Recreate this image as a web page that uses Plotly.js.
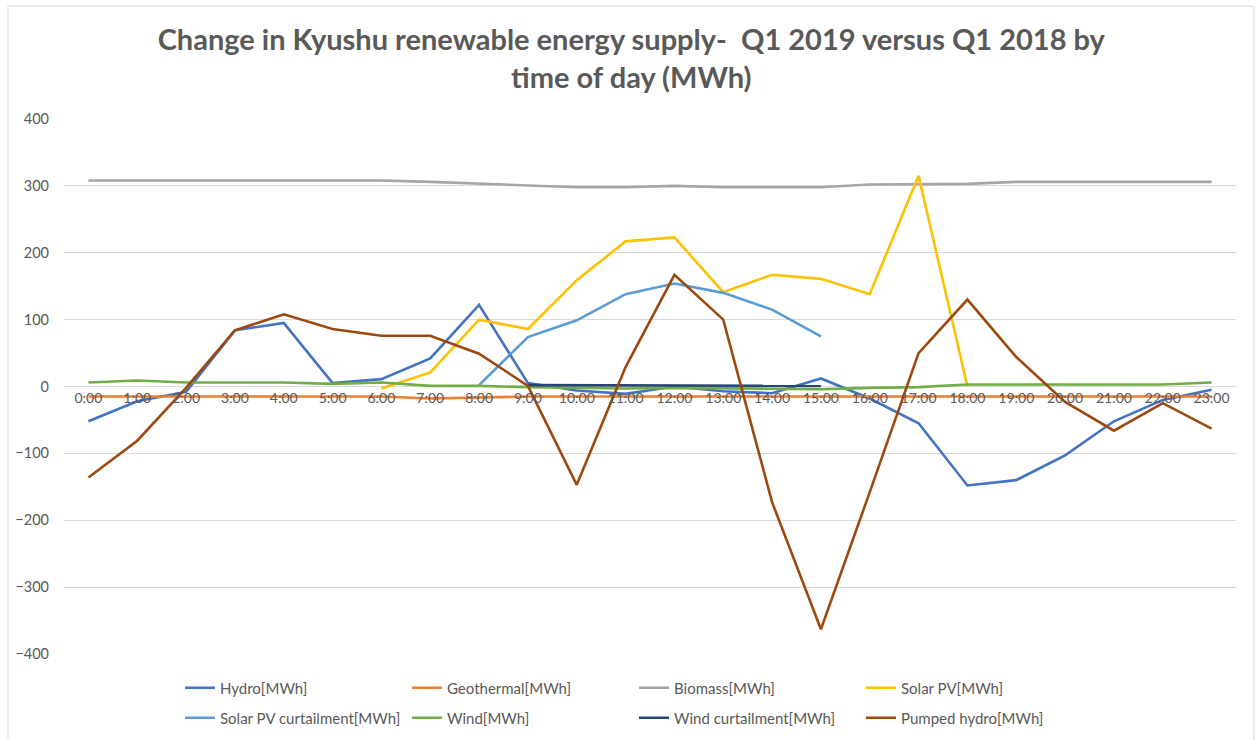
<!DOCTYPE html>
<html>
<head>
<meta charset="utf-8">
<script src="https://cdn.plot.ly/plotly-3.0.1.min.js"></script>
<style>html,body{margin:0;padding:0;background:#fff;}#chart{width:1255px;height:740px;}</style>
</head>
<body>
<div id="chart"></div>
<script>
const hours = ["0:00","1:00","2:00","3:00","4:00","5:00","6:00","7:00","8:00","9:00","10:00","11:00","12:00","13:00","14:00","15:00","16:00","17:00","18:00","19:00","20:00","21:00","22:00","23:00"];
const hydro = [-52,-22,-8,84,95,5,11,42,122,5,-6,-11,0,-7,-10,12,-18,-55,-148,-140,-103,-52,-20,-5];
const geothermal = [-15,-15,-15,-15,-15,-15,-15,-18,-16,-15,-15,-15,-15,-15,-15,-15,-15,-15,-15,-15,-15,-15,-15,-15];
const biomass = [308,308,308,308,308,308,308,306,303,301,298,298,300,298,298,298,302,303,303,306,306,306,306,306];
const solarPV = [null,null,null,null,null,null,-3,21,100,86,159,217,223,141,167,161,138,315,0,null,null,null,null,null];
const solarPVCurtailment = [null,null,null,null,null,null,null,null,2,74,99,138,154,140,115,75,null,null,null,null,null,null,null,null];
const wind = [6,9,6,6,6,4,6,1,1,-1,-2,-3,-2,-3,-3,-4,-2,-1,3,3,3,3,3,6];
const windCurtailment = [null,null,null,null,null,null,null,null,null,2,2,2,2,2,2,1,null,null,null,null,null,null,null,null];
const pumpedHydro = [-136,-81,-2,84,108,86,76,76,49,1,-147,29,167,100,-173,-363,-158,50,130,44,-23,-66,-25,-63];

const seriesNames = ["Hydro[MWh]","Geothermal[MWh]","Biomass[MWh]","Solar PV[MWh]","Solar PV curtailment[MWh]","Wind[MWh]","Wind curtailment[MWh]","Pumped hydro[MWh]"];
const seriesData = [hydro, geothermal, biomass, solarPV, solarPVCurtailment, wind, windCurtailment, pumpedHydro];
const colors = ["#4472C4","#ED7D31","#A5A5A5","#FFC000","#5B9BD5","#70AD47","#264478","#9E480E"];

const traces = seriesData.map((d, i) => ({
  type: 'scatter', mode: 'lines', x: hours, y: d, name: seriesNames[i],
  line: {color: colors[i], width: 2.6},
  connectgaps: false,
  legend: i < 4 ? 'legend' : 'legend2',
  hoverinfo: 'x+y+name'
}));

const legendCommon = {
  orientation: 'h', xanchor: 'left', yanchor: 'middle',
  entrywidth: 182, entrywidthmode: 'pixels',
  font: {family: 'Lato', size: 15, color: '#595959'},
  bgcolor: 'rgba(0,0,0,0)', borderwidth: 0, traceorder: 'normal'
};

const layout = {
  width: 1255, height: 740,
  margin: {l: 64, r: 19, t: 119, b: 86, autoexpand: false},
  paper_bgcolor: '#ffffff', plot_bgcolor: '#ffffff',
  font: {family: 'Lato', color: '#595959'},
  title: {
    text: 'Change in Kyushu renewable energy supply-  Q1 2019 versus Q1 2018 by<br>time of day (MWh)',
    font: {family: 'Lato', size: 29, color: '#595959', weight: 'bold'},
    xref: 'container', x: 0.503, xanchor: 'center',
    yref: 'container', y: 1 - 50/740, yanchor: 'top'
  },
  xaxis: {
    type: 'category', range: [-0.5, 23.5],
    showgrid: false, showline: false, zeroline: false,
    anchor: 'free', position: 0.5,
    ticks: '', ticklabelstandoff: 1,
    tickfont: {family: 'Lato', size: 14, color: '#595959'},
    fixedrange: true
  },
  yaxis: {
    range: [-400, 400], tickvals: [-400,-300,-200,-100,0,100,200,300,400],
    showgrid: true, gridcolor: '#d9d9d9', gridwidth: 1,
    zeroline: true, zerolinecolor: '#d9d9d9', zerolinewidth: 1,
    showline: false, ticks: '', ticklabelstandoff: 14,
    tickfont: {family: 'Lato', size: 14.5, color: '#595959'},
    fixedrange: true
  },
  legend: Object.assign({}, legendCommon, {x: (180-64)/1172, y: (654-688)/535}),
  legend2: Object.assign({}, legendCommon, {x: (180-64)/1172, y: (654-718)/535}),
  shapes: [{
    type: 'rect', xref: 'paper', yref: 'paper',
    x0: (8-64)/1172, x1: (1254-64)/1172, y0: -(745-654)/535, y1: 1 + (119-6)/535,
    line: {color: '#d9d9d9', width: 1}, fillcolor: 'rgba(0,0,0,0)', layer: 'below'
  }],
  showlegend: true
};

Plotly.newPlot('chart', traces, layout, {displayModeBar: false, staticPlot: false});
</script>
</body>
</html>
